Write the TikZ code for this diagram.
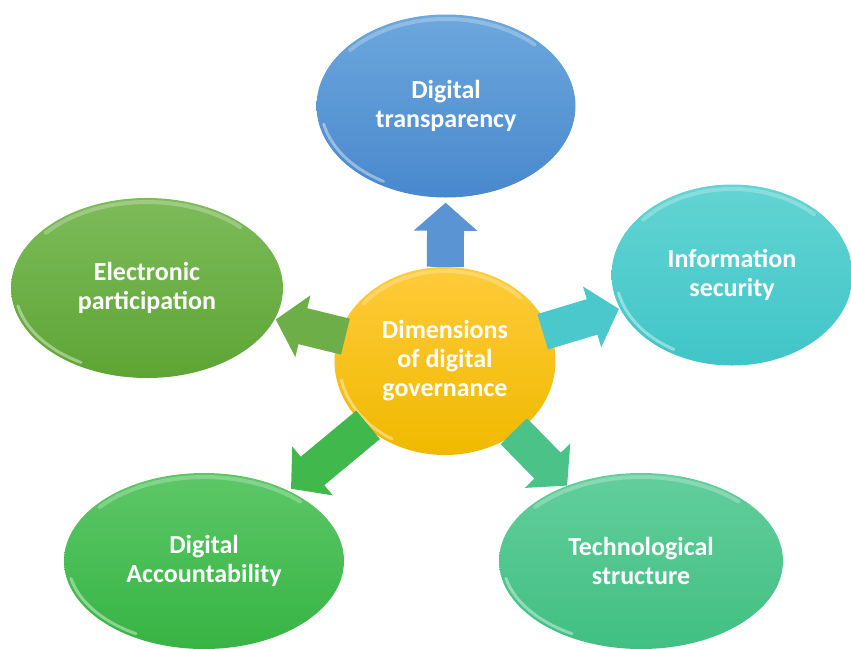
\documentclass[tikz,border=0pt]{standalone}
\usepackage{fontspec}
\setmainfont{Carlito}
\usetikzlibrary{shapes.geometric,arrows.meta}

\definecolor{hubTop}{HTML}{FFCB3A}
\definecolor{hubBot}{HTML}{F0B900}
\definecolor{transpTop}{HTML}{6CA7DD}
\definecolor{transpBot}{HTML}{4988CD}
\definecolor{infoTop}{HTML}{62D4D3}
\definecolor{infoBot}{HTML}{41C5C8}
\definecolor{epartTop}{HTML}{7DBB59}
\definecolor{epartBot}{HTML}{5DA535}
\definecolor{accTop}{HTML}{5CC767}
\definecolor{accBot}{HTML}{37B443}
\definecolor{techTop}{HTML}{62CE9C}
\definecolor{techBot}{HTML}{41BF82}

\tikzset{
	bubble/.style={ellipse,inner sep=0pt,text=white,align=center,
		font=\bfseries\fontsize{26}{29}\selectfont},
	fatarrow/.style={line width=37pt,-{Triangle[width=62pt,length=28pt]}}
}

\begin{document}
\begin{tikzpicture}[x=1pt,y=1pt]
\useasboundingbox (0,0) rectangle (851,-648);

\node[bubble,minimum width=259pt,minimum height=183pt,top color=transpTop,bottom color=transpBot]
	(transp) at (446,-106) {Digital\\transparency};
\node[bubble,minimum width=241pt,minimum height=181pt,top color=infoTop,bottom color=infoBot]
	(infosec) at (732,-275) {Information\\security};
\node[bubble,minimum width=272pt,minimum height=180pt,top color=epartTop,bottom color=epartBot]
	(epart) at (147,-288) {Electronic\\participation};
\node[bubble,minimum width=280pt,minimum height=176pt,top color=accTop,bottom color=accBot]
	(account) at (204,-561) {Digital\\Accountability};
\node[bubble,minimum width=284pt,minimum height=176pt,top color=techTop,bottom color=techBot]
	(techstr) at (641,-561) {Technological\\structure};
\node[bubble,minimum width=221pt,minimum height=188pt,top color=hubTop,bottom color=hubBot]
	(hub) at (445,-361) {Dimensions\\of digital\\governance};

% glossy rims
\foreach \n/\rx/\ry in {transp/129/91, infosec/120/90, epart/136/90, account/140/88, techstr/142/88, hub/110/94}
	{
	\draw[white,opacity=.25,line width=4pt,line cap=round] ([shift={(140:\rx-4 and \ry-4)}]\n.center)
		arc[start angle=140,end angle=45,x radius=\rx-4,y radius=\ry-4];
	\draw[white,opacity=.4,line width=3pt,line cap=round] ([shift={(192:\rx-4 and \ry-4)}]\n.center)
		arc[start angle=192,end angle=240,x radius=\rx-4,y radius=\ry-4];
	}

\draw[fatarrow,color=transpBot!90!white,shorten >=5pt] (hub) -- (transp);
\draw[fatarrow,color=infoBot!95!white,shorten <=-7pt,shorten >=1pt] (hub) -- (infosec);
\draw[fatarrow,color=epartBot!90!white,shorten <=-7pt,shorten >=1pt] (hub) -- (epart);
\draw[fatarrow,color=accBot!95!white,shorten <=-3pt,shorten >=3pt] (hub) -- (account);
\draw[fatarrow,color=techBot!95!white,shorten <=-3pt] (hub) -- (techstr);
\end{tikzpicture}
\end{document}
